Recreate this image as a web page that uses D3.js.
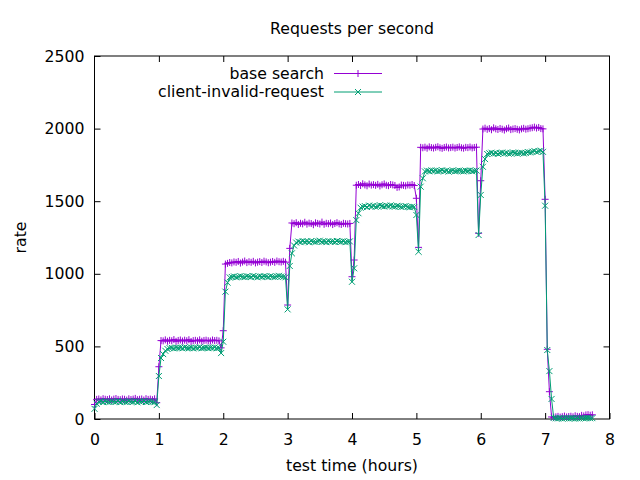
<!DOCTYPE html>
<html>
<head>
<meta charset="utf-8">
<script src="https://cdn.jsdelivr.net/npm/d3@7"></script>
<style>
    body { margin: 0; background: #fff; }
    svg { font-family: "DejaVu Sans", sans-serif; }
    text { fill: #000; }
</style>
</head>
<body>
<svg width="640" height="480"></svg>
<script>

// one sample every 2 minutes, one row per hour of the test
const sample_minutes = 2;

const base_search = [
    100,135,138,132,140,136,134,139,131,137,141,135,133,138,136,130,139,134,137,142,133,136,138,131,140,135,137,133,139,112,
    360,540,538,545,536,542,539,547,535,541,544,537,543,539,546,534,540,542,538,545,536,541,543,539,537,544,540,542,538,490,
    608,1067,1072,1078,1075,1082,1079,1085,1074,1081,1088,1077,1083,1079,1086,1075,1080,1084,1078,1087,1082,1076,1080,1085,1079,1088,1083,1081,1086,1080,
    785,1175,1350,1345,1352,1340,1348,1344,1355,1342,1349,1346,1338,1351,1347,1343,1356,1341,1348,1345,1350,1339,1346,1352,1344,1340,1348,1345,1343,1347,
    980,1095,1610,1615,1608,1620,1612,1606,1618,1611,1614,1609,1616,1605,1613,1619,1610,1607,1615,1612,1608,1595,1598,1611,1609,1606,1612,1610,1615,1608,
    1520,1182,1871,1868,1872,1865,1874,1869,1866,1871,1875,1868,1864,1870,1873,1867,1869,1872,1866,1870,1874,1868,1865,1871,1869,1873,1867,1870,1872,1279,
    1641,1997,2003,1995,2000,1992,2005,1998,1994,2001,1996,1990,1999,2004,1993,1997,2000,1995,1991,1998,2002,1996,1999,2003,2006,2010,2004,2008,2000,1998,
    1513,480,188,14,12,15,18,13,16,20,14,17,19,15,22,18,16,25,21,28,30,26,29
];

const client_invalid_request = [
    70,105,118,121,116,123,119,117,122,120,118,124,116,121,119,117,123,120,118,122,115,121,119,124,117,120,122,118,116,96,
    296,420,447,470,482,488,490,486,492,489,491,487,493,490,488,492,486,491,489,494,487,490,492,488,491,489,493,487,490,454,
    532,877,939,975,978,982,976,980,984,979,977,983,981,978,985,980,976,982,979,983,981,977,984,980,978,982,986,981,979,976,
    755,1054,1141,1195,1215,1222,1218,1225,1220,1223,1217,1226,1221,1219,1224,1228,1220,1222,1218,1225,1221,1223,1219,1226,1222,1220,1224,1218,1221,1223,
    945,1038,1370,1417,1455,1462,1466,1460,1470,1464,1468,1461,1465,1472,1467,1463,1469,1466,1471,1464,1462,1468,1465,1460,1463,1467,1461,1458,1462,1460,
    1405,1152,1600,1658,1705,1710,1706,1712,1708,1711,1705,1709,1713,1707,1710,1704,1708,1712,1706,1709,1711,1707,1705,1710,1708,1712,1706,1709,1711,1267,
    1543,1737,1790,1825,1830,1834,1828,1832,1826,1831,1835,1829,1833,1827,1830,1836,1832,1828,1831,1834,1829,1833,1838,1836,1841,1846,1839,1844,1848,1840,
    1469,475,330,138,8,5,4,6,3,5,7,4,6,5,3,6,4,7,5,6,8,5,6
];

const series_names = ["base search", "client-invalid-request"];
const series_colors = ["#9400d3", "#009e73"];
const x_ticks = [0, 1, 2, 3, 4, 5, 6, 7, 8];
const y_ticks = [0, 500, 1000, 1500, 2000, 2500];

function plus_path(s) {
    return `M${-s},0H${s}M0,${-s}V${s}`;
}

function cross_path(s) {
    return `M${-s},${-s}L${s},${s}M${-s},${s}L${s},${-s}`;
}

function draw() {

    const svg = d3.select('svg');

    const width = 640;
    const height = 480;

    const margin = {top: 56, right: 30.5, bottom: 61, left: 94.5};
    const innerWidth = width - margin.left - margin.right;
    const innerHeight = height - margin.top - margin.bottom;

    const x = d3.scaleLinear().domain([0, 8]).range([0, innerWidth]);
    const y = d3.scaleLinear().domain([0, 2500]).range([innerHeight, 0]);

    const g = svg.append("g")
        .attr("transform", `translate(${margin.left}, ${margin.top})`);

    // axes, ticks pointing inwards like gnuplot, mirrored on top/right
    const fs = "15.7px";

    g.append("g")
        .attr("transform", `translate(0, ${innerHeight})`)
        .call(d3.axisBottom(x).tickValues(x_ticks).tickSize(-6).tickSizeOuter(0).tickPadding(15))
        .call(a => a.select(".domain").remove())
        .call(a => a.selectAll("text").attr("font-size", fs).attr("font-family", "DejaVu Sans").attr("fill", "#000"));

    g.append("g")
        .call(d3.axisLeft(y).tickValues(y_ticks).tickFormat(d3.format("d")).tickSize(-6).tickSizeOuter(0).tickPadding(10))
        .call(a => a.select(".domain").remove())
        .call(a => a.selectAll("text").attr("font-size", fs).attr("font-family", "DejaVu Sans").attr("fill", "#000"));

    g.append("g")
        .call(d3.axisTop(x).tickValues(x_ticks.slice(1, -1)).tickSize(-6).tickSizeOuter(0).tickFormat(""))
        .call(a => a.select(".domain").remove());

    g.append("g")
        .attr("transform", `translate(${innerWidth}, 0)`)
        .call(d3.axisRight(y).tickValues(y_ticks.slice(1, -1)).tickSize(-6).tickSizeOuter(0).tickFormat(""))
        .call(a => a.select(".domain").remove());

    g.append("rect")
        .attr("width", innerWidth)
        .attr("height", innerHeight)
        .attr("fill", "none")
        .attr("stroke", "#000")
        .attr("stroke-width", 1);

    // series
    const all_series = [base_search, client_invalid_request];
    const markers = [plus_path(3.5), cross_path(3)];

    const line = d3.line()
        .x((d, i) => x(i * sample_minutes / 60))
        .y(d => y(d));

    all_series.forEach((values, k) => {

        const sg = g.append("g").attr("class", "series");

        sg.append("path")
            .datum(values)
            .attr("d", line)
            .attr("fill", "none")
            .attr("stroke", series_colors[k])
            .attr("stroke-width", 1);

        sg.selectAll("path.pt")
            .data(values)
            .join("path")
            .attr("class", "pt")
            .attr("transform", (d, i) => `translate(${x(i * sample_minutes / 60)}, ${y(d)})`)
            .attr("d", markers[k])
            .attr("fill", "none")
            .attr("stroke", series_colors[k])
            .attr("stroke-width", 1);

    });

    // legend
    const legend = svg.append("g");

    series_names.forEach((name, k) => {

        const ly = 73.5 + k * 18.5;

        legend.append("text")
            .attr("x", 324)
            .attr("y", ly)
            .attr("dy", "0.35em")
            .attr("text-anchor", "end")
            .attr("font-size", fs)
            .text(name);

        legend.append("line")
            .attr("x1", 334).attr("x2", 382)
            .attr("y1", ly).attr("y2", ly)
            .attr("stroke", series_colors[k]);

        legend.append("path")
            .attr("transform", `translate(358, ${ly})`)
            .attr("d", markers[k])
            .attr("fill", "none")
            .attr("stroke", series_colors[k]);

    });

    // titles
    svg.append("text")
        .attr("x", margin.left + innerWidth / 2)
        .attr("y", 29)
        .attr("dy", "0.35em")
        .attr("text-anchor", "middle")
        .attr("font-size", fs)
        .text("Requests per second");

    svg.append("text")
        .attr("x", margin.left + innerWidth / 2)
        .attr("y", 466)
        .attr("dy", "0.35em")
        .attr("text-anchor", "middle")
        .attr("font-size", fs)
        .text("test time (hours)");

    svg.append("text")
        .attr("transform", `translate(20, ${margin.top + innerHeight / 2}) rotate(-90)`)
        .attr("dy", "0.35em")
        .attr("text-anchor", "middle")
        .attr("font-size", fs)
        .text("rate");

}

draw();

</script>
</body>
</html>
